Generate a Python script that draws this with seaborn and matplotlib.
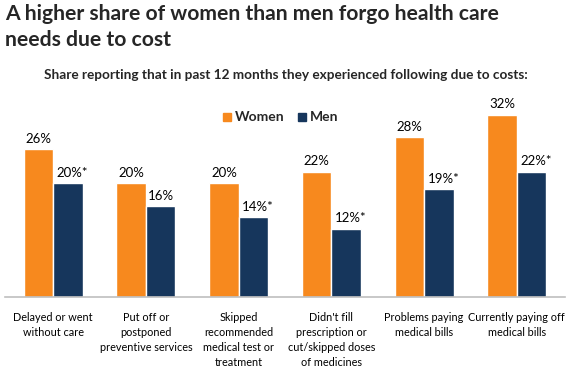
import numpy as np
import pandas as pd
import matplotlib
matplotlib.use("Agg")
import matplotlib.pyplot as plt
import seaborn as sns

categories = [
    "Delayed or went\nwithout care",
    "Put off or\npostponed\npreventive services",
    "Skipped\nrecommended\nmedical test or\ntreatment",
    "Didn't fill\nprescription or\ncut/skipped doses\nof medicines",
    "Problems paying\nmedical bills",
    "Currently paying off\nmedical bills",
]
women = [26, 20, 20, 22, 28, 32]
men = [20, 16, 14, 12, 19, 22]
men_significant = [True, False, True, True, True, True]

ORANGE = "#F7891E"
NAVY = "#16365C"

sns.set_theme(style="white")
plt.rcParams["font.family"] = ["Lato", "DejaVu Sans"]

df = pd.DataFrame({
    "category": categories * 2,
    "group": ["Women"] * len(categories) + ["Men"] * len(categories),
    "value": women + men,
})

fig = plt.figure(figsize=(5.7, 3.7), dpi=100)
ax = fig.add_axes([5 / 570, 73 / 370, 560 / 570, (297 - 97.5) / 370])

sns.barplot(data=df, x="category", y="value", hue="group",
            palette={"Women": ORANGE, "Men": NAVY}, width=0.635,
            gap=0, saturation=1, legend=False, ax=ax)

ax.set_xlim(-0.52, 5.52)
ax.set_ylim(0, 35)
ax.set_xlabel("")
ax.set_ylabel("")
ax.set_yticks([])
ax.tick_params(axis="x", length=0, pad=11, labelsize=7.8, colors="black")
for lbl in ax.get_xticklabels():
    lbl.set_linespacing(1.45)
    lbl.set_verticalalignment("top")
for side in ["top", "left", "right"]:
    ax.spines[side].set_visible(False)
ax.spines["bottom"].set_color("#BFBFBF")
ax.spines["bottom"].set_linewidth(1.2)

# value labels
bw = 0.635 / 2
for i, (w, m, sig) in enumerate(zip(women, men, men_significant)):
    ax.annotate(f"{w}%", (i - bw / 2, w), xytext=(0, 3), textcoords="offset points",
                ha="center", va="bottom", fontsize=9.5, color="black")
    label = f"{m}%*" if sig else f"{m}%"
    ax.annotate(label, (i + bw / 2, m), xytext=(3.2 if sig else 0, 3),
                textcoords="offset points",
                ha="center", va="bottom", fontsize=9.5, color="black")

# legend
fig.patches.append(plt.Rectangle((223 / 570, 1 - 121 / 370), 8 / 570, 8 / 370,
                                 color=ORANGE, transform=fig.transFigure))
fig.text(235 / 570, 1 - 117 / 370, "Women", fontsize=10, fontweight="bold", va="center")
fig.patches.append(plt.Rectangle((298 / 570, 1 - 121 / 370), 8 / 570, 8 / 370,
                                 color=NAVY, transform=fig.transFigure))
fig.text(310 / 570, 1 - 117 / 370, "Men", fontsize=10, fontweight="bold", va="center")

fig.text(5 / 570, 1 - 4 / 370, "A higher share of women than men forgo health care\nneeds due to cost",
         fontsize=15.2, fontweight="bold", va="top", ha="left", linespacing=1.4)
fig.text(286 / 570, 1 - 75 / 370,
         "Share reporting that in past 12 months they experienced following due to costs:",
         fontsize=9.8, fontweight="bold", va="center", ha="center")

fig.savefig("out.png", dpi=100)
